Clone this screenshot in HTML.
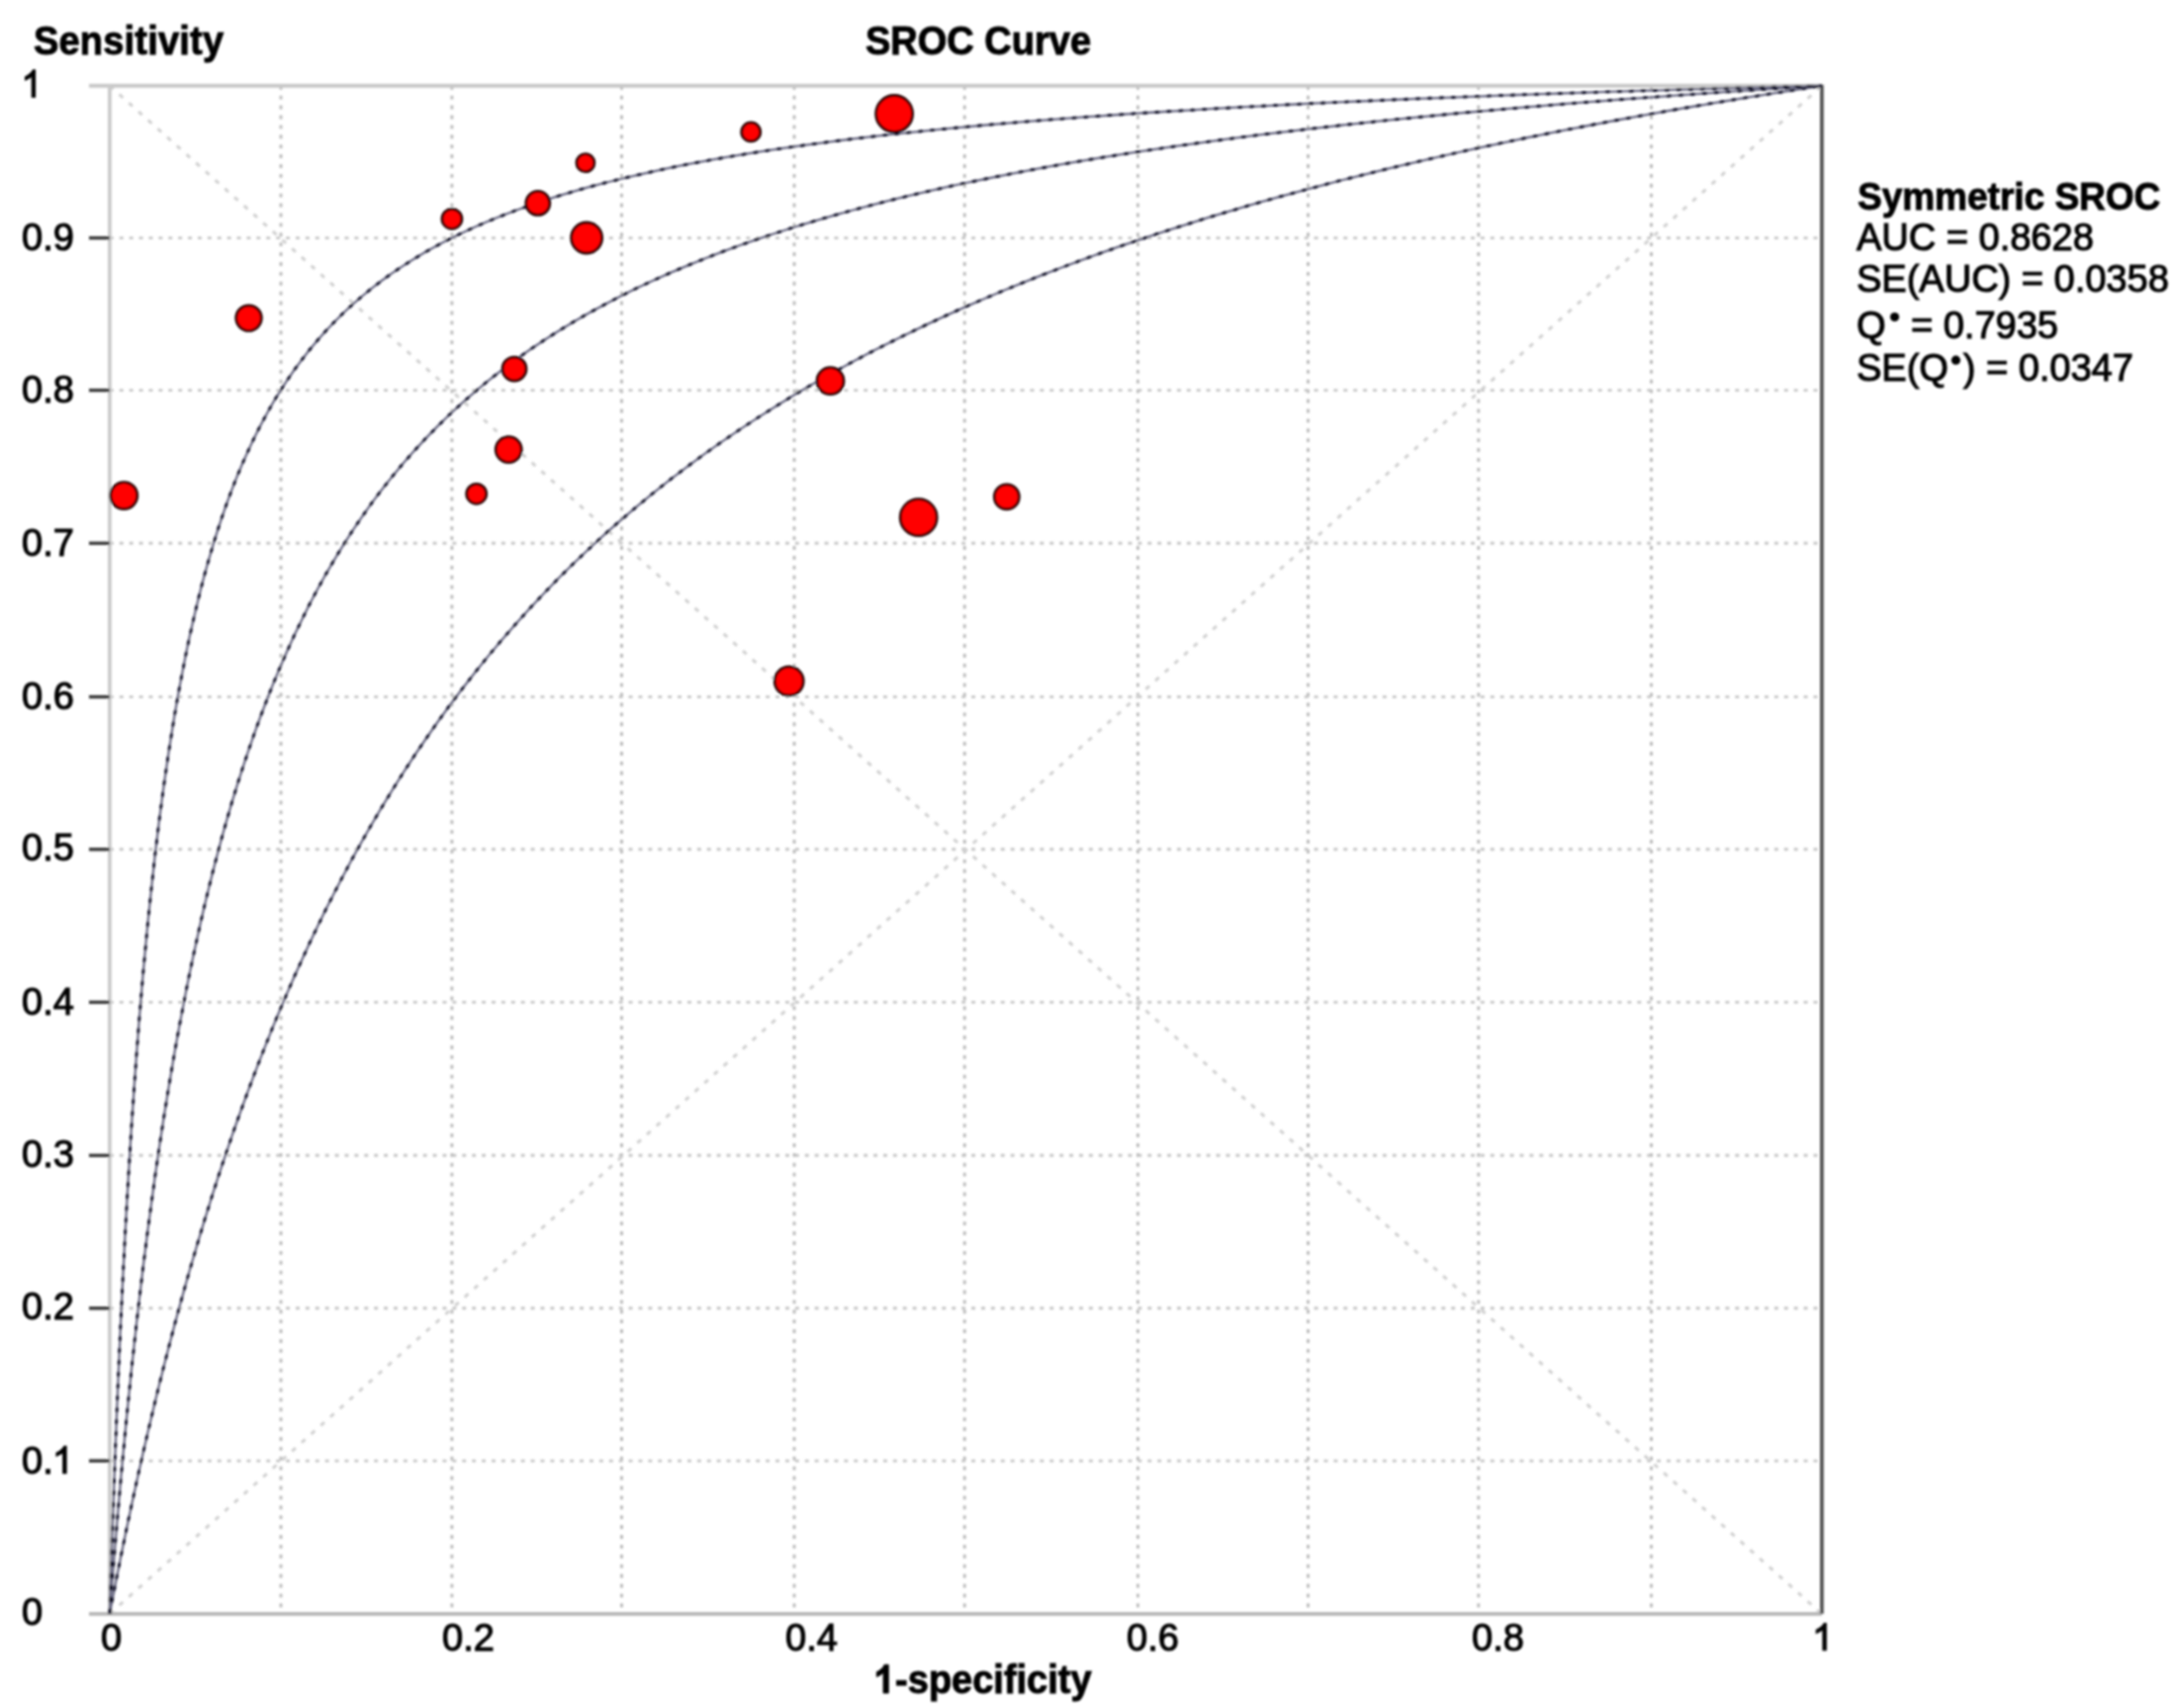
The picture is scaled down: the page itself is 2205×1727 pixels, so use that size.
<!DOCTYPE html>
<html><head><meta charset="utf-8"><title>SROC Curve</title>
<style>
html,body{margin:0;padding:0;background:#fff;width:2205px;height:1727px;overflow:hidden}
svg{display:block}
text{font-family:"Liberation Sans",sans-serif;font-size:38px;fill:#000;stroke:#000;stroke-width:1.1px}
.b{font-weight:700;stroke-width:0.9px}
</style></head><body>
<svg width="2205" height="1727" viewBox="0 0 2205 1727">
<defs><filter id="bl" x="0" y="0" width="2205" height="1727" filterUnits="userSpaceOnUse"><feGaussianBlur stdDeviation="0.9"/></filter></defs>
<rect width="2205" height="1727" fill="#fff"/>
<g filter="url(#bl)">
<g stroke="#bcbcbc" stroke-width="2.9" stroke-dasharray="3.9 6.0" fill="none">
<line x1="284.0" y1="86.8" x2="284.0" y2="1631.8"/>
<line x1="456.9" y1="86.8" x2="456.9" y2="1631.8"/>
<line x1="628.5" y1="86.8" x2="628.5" y2="1631.8"/>
<line x1="803.0" y1="86.8" x2="803.0" y2="1631.8"/>
<line x1="975.2" y1="86.8" x2="975.2" y2="1631.8"/>
<line x1="1150.4" y1="86.8" x2="1150.4" y2="1631.8"/>
<line x1="1322.5" y1="86.8" x2="1322.5" y2="1631.8"/>
<line x1="1494.8" y1="86.8" x2="1494.8" y2="1631.8"/>
<line x1="1669.5" y1="86.8" x2="1669.5" y2="1631.8"/>
</g>
<g stroke="#c6c6c6" stroke-width="2.9" stroke-dasharray="3.9 6.0" fill="none">
<line x1="110.9" y1="1477.1" x2="1841.9" y2="1477.1"/>
<line x1="110.9" y1="1322.8" x2="1841.9" y2="1322.8"/>
<line x1="110.9" y1="1168.3" x2="1841.9" y2="1168.3"/>
<line x1="110.9" y1="1013.4" x2="1841.9" y2="1013.4"/>
<line x1="110.9" y1="858.8" x2="1841.9" y2="858.8"/>
<line x1="110.9" y1="704.6" x2="1841.9" y2="704.6"/>
<line x1="110.9" y1="549.3" x2="1841.9" y2="549.3"/>
<line x1="110.9" y1="394.6" x2="1841.9" y2="394.6"/>
<line x1="110.9" y1="240.6" x2="1841.9" y2="240.6"/>
</g>
<g stroke="#d0d0d0" stroke-width="3" stroke-dasharray="5 8" fill="none">
<line x1="110.9" y1="1631.85" x2="1841.9" y2="86.8"/>
<line x1="110.9" y1="86.8" x2="1841.9" y2="1631.85"/>
</g>
<g fill="none">
<line x1="90" y1="86.8" x2="1841.9" y2="86.8" stroke="#c8c8c8" stroke-width="4"/>
<line x1="90" y1="1631.85" x2="1841.9" y2="1631.85" stroke="#b6b6b6" stroke-width="3.6"/>
<line x1="110.9" y1="86.8" x2="110.9" y2="1631.85" stroke="#cbcbcb" stroke-width="3.8"/>
</g>
<g stroke="#383838" stroke-width="3.4" fill="none">
<line x1="90" y1="1477.1" x2="110.9" y2="1477.1"/>
<line x1="90" y1="1322.8" x2="110.9" y2="1322.8"/>
<line x1="90" y1="1168.3" x2="110.9" y2="1168.3"/>
<line x1="90" y1="1013.4" x2="110.9" y2="1013.4"/>
<line x1="90" y1="858.8" x2="110.9" y2="858.8"/>
<line x1="90" y1="704.6" x2="110.9" y2="704.6"/>
<line x1="90" y1="549.3" x2="110.9" y2="549.3"/>
<line x1="90" y1="394.6" x2="110.9" y2="394.6"/>
<line x1="90" y1="240.6" x2="110.9" y2="240.6"/>
</g>
<line x1="1841.9" y1="85.8" x2="1841.9" y2="1631.85" stroke="#505050" stroke-width="3.7"/>
<g stroke="#686882" stroke-width="2.3" fill="none" stroke-linejoin="round">
<path d="M110.9,1631.8 L111.1,1625.0 L111.1,1624.7 L111.1,1624.3 L111.1,1624.0 L111.2,1623.6 L111.2,1623.2 L111.2,1622.9 L111.2,1622.4 L111.2,1622.0 L111.2,1621.6 L111.2,1621.1 L111.3,1620.6 L111.3,1620.1 L111.3,1619.5 L111.3,1619.0 L111.3,1618.4 L111.3,1617.8 L111.4,1617.1 L111.4,1616.5 L111.4,1615.8 L111.4,1615.0 L111.4,1614.3 L111.5,1613.5 L111.5,1612.6 L111.5,1611.8 L111.6,1610.9 L111.6,1609.9 L111.6,1608.9 L111.7,1607.9 L111.7,1606.8 L111.7,1605.7 L111.8,1604.5 L111.8,1603.2 L111.8,1601.9 L111.9,1600.6 L111.9,1599.2 L112.0,1597.7 L112.0,1596.2 L112.1,1594.6 L112.1,1592.9 L112.2,1591.2 L112.3,1589.3 L112.3,1587.4 L112.4,1585.4 L112.4,1583.4 L112.5,1581.2 L112.6,1579.0 L112.7,1576.6 L112.8,1574.2 L112.8,1571.6 L112.9,1569.0 L113.0,1566.2 L113.1,1563.3 L113.2,1560.3 L113.3,1557.2 L113.4,1553.9 L113.6,1550.5 L113.7,1547.0 L113.8,1543.3 L113.9,1539.4 L114.1,1535.5 L114.2,1531.3 L114.4,1527.0 L114.5,1522.5 L114.7,1517.9 L114.9,1513.0 L115.1,1508.0 L115.2,1502.8 L115.4,1497.3 L115.7,1491.7 L115.9,1485.9 L116.1,1479.8 L116.3,1473.5 L116.6,1467.0 L116.8,1460.3 L117.1,1453.3 L117.4,1446.0 L117.7,1438.6 L118.0,1430.8 L118.3,1422.8 L118.7,1414.6 L119.0,1406.0 L119.4,1397.2 L119.8,1388.1 L120.2,1378.7 L120.6,1369.1 L121.1,1359.1 L121.5,1348.8 L122.0,1338.3 L122.5,1327.4 L123.1,1316.3 L123.6,1304.8 L124.2,1293.1 L124.8,1281.0 L125.5,1268.7 L126.1,1256.0 L126.8,1243.1 L127.5,1229.8 L128.3,1216.3 L129.1,1202.5 L129.9,1188.4 L130.8,1174.1 L131.7,1159.4 L132.6,1144.5 L133.6,1129.4 L134.7,1114.0 L135.7,1098.4 L136.9,1082.6 L138.0,1066.6 L139.3,1050.3 L140.5,1033.9 L141.9,1017.4 L143.3,1000.6 L144.7,983.8 L146.3,966.8 L147.9,949.7 L149.5,932.5 L151.3,915.2 L153.1,897.9 L155.0,880.6 L156.9,863.2 L159.0,845.8 L161.1,828.4 L163.4,811.1 L165.7,793.8 L168.2,776.6 L170.7,759.5 L173.4,742.4 L176.1,725.5 L179.0,708.7 L182.0,692.1 L185.2,675.6 L188.4,659.3 L191.8,643.1 L195.4,627.2 L199.1,611.5 L202.9,596.0 L206.9,580.8 L211.1,565.8 L215.4,551.1 L219.9,536.6 L224.6,522.4 L229.5,508.4 L234.5,494.8 L239.8,481.4 L245.3,468.3 L251.0,455.6 L256.9,443.1 L263.0,430.9 L269.4,419.0 L275.9,407.4 L282.8,396.1 L289.9,385.1 L297.2,374.5 L304.9,364.1 L312.7,354.0 L320.9,344.2 L329.3,334.7 L338.1,325.5 L347.1,316.5 L356.4,307.9 L366.1,299.5 L376.0,291.3 L386.3,283.5 L396.9,275.9 L407.8,268.6 L419.0,261.5 L430.6,254.6 L442.5,248.0 L454.7,241.6 L467.3,235.5 L480.2,229.5 L493.4,223.8 L507.0,218.3 L520.9,213.0 L535.1,207.9 L549.7,202.9 L564.6,198.2 L579.8,193.6 L595.4,189.2 L611.2,185.0 L627.4,181.0 L643.9,177.1 L660.6,173.3 L677.6,169.7 L694.9,166.2 L712.4,162.9 L730.2,159.7 L748.2,156.7 L766.5,153.7 L784.9,150.9 L803.5,148.2 L822.3,145.6 L841.2,143.1 L860.3,140.7 L879.4,138.4 L898.7,136.2 L918.1,134.1 L937.5,132.1 L956.9,130.2 L976.4,128.3 L995.9,126.5 L1015.3,124.8 L1034.7,123.2 L1054.1,121.6 L1073.4,120.1 L1092.5,118.7 L1111.6,117.3 L1130.5,116.0 L1149.3,114.7 L1167.9,113.5 L1186.3,112.4 L1204.6,111.3 L1222.6,110.2 L1240.4,109.2 L1257.9,108.2 L1275.2,107.3 L1292.2,106.4 L1308.9,105.5 L1325.4,104.7 L1341.6,103.9 L1357.4,103.2 L1373.0,102.5 L1388.2,101.8 L1403.1,101.1 L1417.7,100.5 L1431.9,99.9 L1445.8,99.3 L1459.4,98.8 L1472.6,98.3 L1485.5,97.8 L1498.1,97.3 L1510.3,96.8 L1522.2,96.4 L1533.8,96.0 L1545.0,95.6 L1555.9,95.2 L1566.5,94.8 L1576.8,94.5 L1586.7,94.1 L1596.4,93.8 L1605.7,93.5 L1614.7,93.2 L1623.5,92.9 L1631.9,92.7 L1640.1,92.4 L1647.9,92.2 L1655.6,91.9 L1662.9,91.7 L1670.0,91.5 L1676.9,91.3 L1683.4,91.1 L1689.8,90.9 L1695.9,90.7 L1701.8,90.5 L1707.5,90.4 L1713.0,90.2 L1718.3,90.1 L1723.3,89.9 L1728.2,89.8 L1732.9,89.7 L1737.4,89.5 L1741.7,89.4 L1745.9,89.3 L1749.9,89.2 L1753.7,89.1 L1757.4,89.0 L1761.0,88.9 L1764.4,88.8 L1767.6,88.7 L1770.8,88.6 L1773.8,88.5 L1776.7,88.5 L1779.4,88.4 L1782.1,88.3 L1784.6,88.3 L1787.1,88.2 L1789.4,88.1 L1791.7,88.1 L1793.8,88.0 L1795.9,88.0 L1797.8,87.9 L1799.7,87.9 L1801.5,87.8 L1803.3,87.8 L1804.9,87.7 L1806.5,87.7 L1808.1,87.6 L1809.5,87.6 L1810.9,87.6 L1812.3,87.5 L1813.5,87.5 L1814.8,87.5 L1815.9,87.4 L1817.1,87.4 L1818.1,87.4 L1819.2,87.4 L1820.2,87.3 L1821.1,87.3 L1822.0,87.3 L1822.9,87.3 L1823.7,87.3 L1824.5,87.2 L1825.3,87.2 L1826.0,87.2 L1826.7,87.2 L1827.3,87.2 L1828.0,87.1 L1828.6,87.1 L1829.2,87.1 L1829.7,87.1 L1830.3,87.1 L1830.8,87.1 L1831.3,87.1 L1831.7,87.1 L1832.2,87.0 L1832.6,87.0 L1833.0,87.0 L1833.4,87.0 L1833.8,87.0 L1834.1,87.0 L1834.5,87.0 L1834.8,87.0 L1835.1,87.0 L1835.4,87.0 L1835.7,87.0 L1836.0,86.9 L1836.2,86.9 L1836.5,86.9 L1836.7,86.9 L1836.9,86.9 L1837.1,86.9 L1837.4,86.9 L1837.6,86.9 L1837.7,86.9 L1837.9,86.9 L1838.1,86.9 L1838.3,86.9 L1838.4,86.9 L1838.6,86.9 L1838.7,86.9 L1838.9,86.9 L1839.0,86.9 L1839.1,86.9 L1839.2,86.9 L1839.4,86.9 L1839.5,86.9 L1839.6,86.9 L1839.7,86.9 L1839.8,86.9 L1839.9,86.8 L1840.0,86.8 L1840.0,86.8 L1840.1,86.8 L1840.2,86.8 L1840.3,86.8 L1840.4,86.8 L1840.4,86.8 L1840.5,86.8 L1840.5,86.8 L1840.6,86.8 L1840.7,86.8 L1840.7,86.8 L1840.8,86.8 L1840.8,86.8 L1840.9,86.8 L1840.9,86.8 L1841.0,86.8 L1841.0,86.8 L1841.0,86.8 L1841.1,86.8 L1841.1,86.8 L1841.1,86.8 L1841.2,86.8 L1841.2,86.8 L1841.2,86.8 L1841.3,86.8 L1841.3,86.8 L1841.3,86.8 L1841.4,86.8 L1841.4,86.8 L1841.4,86.8 L1841.4,86.8 L1841.4,86.8 L1841.5,86.8 L1841.5,86.8 L1841.5,86.8 L1841.5,86.8 L1841.5,86.8 L1841.5,86.8 L1841.6,86.8 L1841.6,86.8 L1841.6,86.8 L1841.6,86.8 L1841.6,86.8 L1841.6,86.8 L1841.6,86.8 L1841.7,86.8 L1841.7,86.8 L1841.7,86.8 L1841.7,86.8 L1841.9,86.8"/>
<path d="M110.9,1631.8 L111.1,1629.0 L111.1,1628.9 L111.1,1628.8 L111.1,1628.6 L111.2,1628.5 L111.2,1628.3 L111.2,1628.2 L111.2,1628.0 L111.2,1627.8 L111.2,1627.6 L111.2,1627.5 L111.3,1627.3 L111.3,1627.0 L111.3,1626.8 L111.3,1626.6 L111.3,1626.4 L111.3,1626.1 L111.4,1625.8 L111.4,1625.6 L111.4,1625.3 L111.4,1625.0 L111.4,1624.7 L111.5,1624.3 L111.5,1624.0 L111.5,1623.6 L111.6,1623.2 L111.6,1622.9 L111.6,1622.4 L111.7,1622.0 L111.7,1621.6 L111.7,1621.1 L111.8,1620.6 L111.8,1620.1 L111.8,1619.5 L111.9,1619.0 L111.9,1618.4 L112.0,1617.8 L112.0,1617.1 L112.1,1616.5 L112.1,1615.8 L112.2,1615.0 L112.3,1614.3 L112.3,1613.5 L112.4,1612.6 L112.4,1611.8 L112.5,1610.9 L112.6,1609.9 L112.7,1608.9 L112.8,1607.9 L112.8,1606.8 L112.9,1605.7 L113.0,1604.5 L113.1,1603.2 L113.2,1601.9 L113.3,1600.6 L113.4,1599.2 L113.6,1597.7 L113.7,1596.2 L113.8,1594.6 L113.9,1592.9 L114.1,1591.2 L114.2,1589.3 L114.4,1587.4 L114.5,1585.4 L114.7,1583.4 L114.9,1581.2 L115.1,1579.0 L115.2,1576.6 L115.4,1574.2 L115.7,1571.6 L115.9,1569.0 L116.1,1566.2 L116.3,1563.3 L116.6,1560.3 L116.8,1557.2 L117.1,1553.9 L117.4,1550.5 L117.7,1547.0 L118.0,1543.3 L118.3,1539.4 L118.7,1535.5 L119.0,1531.3 L119.4,1527.0 L119.8,1522.5 L120.2,1517.9 L120.6,1513.0 L121.1,1508.0 L121.5,1502.8 L122.0,1497.3 L122.5,1491.7 L123.1,1485.9 L123.6,1479.8 L124.2,1473.5 L124.8,1467.0 L125.5,1460.3 L126.1,1453.3 L126.8,1446.0 L127.5,1438.6 L128.3,1430.8 L129.1,1422.8 L129.9,1414.6 L130.8,1406.0 L131.7,1397.2 L132.6,1388.1 L133.6,1378.7 L134.7,1369.1 L135.7,1359.1 L136.9,1348.8 L138.0,1338.3 L139.3,1327.4 L140.5,1316.3 L141.9,1304.8 L143.3,1293.1 L144.7,1281.0 L146.3,1268.7 L147.9,1256.0 L149.5,1243.1 L151.3,1229.8 L153.1,1216.3 L155.0,1202.5 L156.9,1188.4 L159.0,1174.1 L161.1,1159.4 L163.4,1144.5 L165.7,1129.4 L168.2,1114.0 L170.7,1098.4 L173.4,1082.6 L176.1,1066.6 L179.0,1050.3 L182.0,1033.9 L185.2,1017.4 L188.4,1000.6 L191.8,983.8 L195.4,966.8 L199.1,949.7 L202.9,932.5 L206.9,915.2 L211.1,897.9 L215.4,880.6 L219.9,863.2 L224.6,845.8 L229.5,828.4 L234.5,811.1 L239.8,793.8 L245.3,776.6 L251.0,759.5 L256.9,742.4 L263.0,725.5 L269.4,708.7 L275.9,692.1 L282.8,675.6 L289.9,659.3 L297.2,643.1 L304.9,627.2 L312.7,611.5 L320.9,596.0 L329.3,580.8 L338.1,565.8 L347.1,551.1 L356.4,536.6 L366.1,522.4 L376.0,508.4 L386.3,494.8 L396.9,481.4 L407.8,468.3 L419.0,455.6 L430.6,443.1 L442.5,430.9 L454.7,419.0 L467.3,407.4 L480.2,396.1 L493.4,385.1 L507.0,374.5 L520.9,364.1 L535.1,354.0 L549.7,344.2 L564.6,334.7 L579.8,325.5 L595.4,316.5 L611.2,307.9 L627.4,299.5 L643.9,291.3 L660.6,283.5 L677.6,275.9 L694.9,268.6 L712.4,261.5 L730.2,254.6 L748.2,248.0 L766.5,241.6 L784.9,235.5 L803.5,229.5 L822.3,223.8 L841.2,218.3 L860.3,213.0 L879.4,207.9 L898.7,202.9 L918.1,198.2 L937.5,193.6 L956.9,189.2 L976.4,185.0 L995.9,181.0 L1015.3,177.1 L1034.7,173.3 L1054.1,169.7 L1073.4,166.2 L1092.5,162.9 L1111.6,159.7 L1130.5,156.7 L1149.3,153.7 L1167.9,150.9 L1186.3,148.2 L1204.6,145.6 L1222.6,143.1 L1240.4,140.7 L1257.9,138.4 L1275.2,136.2 L1292.2,134.1 L1308.9,132.1 L1325.4,130.2 L1341.6,128.3 L1357.4,126.5 L1373.0,124.8 L1388.2,123.2 L1403.1,121.6 L1417.7,120.1 L1431.9,118.7 L1445.8,117.3 L1459.4,116.0 L1472.6,114.7 L1485.5,113.5 L1498.1,112.4 L1510.3,111.3 L1522.2,110.2 L1533.8,109.2 L1545.0,108.2 L1555.9,107.3 L1566.5,106.4 L1576.8,105.5 L1586.7,104.7 L1596.4,103.9 L1605.7,103.2 L1614.7,102.5 L1623.5,101.8 L1631.9,101.1 L1640.1,100.5 L1647.9,99.9 L1655.6,99.3 L1662.9,98.8 L1670.0,98.3 L1676.9,97.8 L1683.4,97.3 L1689.8,96.8 L1695.9,96.4 L1701.8,96.0 L1707.5,95.6 L1713.0,95.2 L1718.3,94.8 L1723.3,94.5 L1728.2,94.1 L1732.9,93.8 L1737.4,93.5 L1741.7,93.2 L1745.9,92.9 L1749.9,92.7 L1753.7,92.4 L1757.4,92.2 L1761.0,91.9 L1764.4,91.7 L1767.6,91.5 L1770.8,91.3 L1773.8,91.1 L1776.7,90.9 L1779.4,90.7 L1782.1,90.5 L1784.6,90.4 L1787.1,90.2 L1789.4,90.1 L1791.7,89.9 L1793.8,89.8 L1795.9,89.7 L1797.8,89.5 L1799.7,89.4 L1801.5,89.3 L1803.3,89.2 L1804.9,89.1 L1806.5,89.0 L1808.1,88.9 L1809.5,88.8 L1810.9,88.7 L1812.3,88.6 L1813.5,88.5 L1814.8,88.5 L1815.9,88.4 L1817.1,88.3 L1818.1,88.3 L1819.2,88.2 L1820.2,88.1 L1821.1,88.1 L1822.0,88.0 L1822.9,88.0 L1823.7,87.9 L1824.5,87.9 L1825.3,87.8 L1826.0,87.8 L1826.7,87.7 L1827.3,87.7 L1828.0,87.6 L1828.6,87.6 L1829.2,87.6 L1829.7,87.5 L1830.3,87.5 L1830.8,87.5 L1831.3,87.4 L1831.7,87.4 L1832.2,87.4 L1832.6,87.4 L1833.0,87.3 L1833.4,87.3 L1833.8,87.3 L1834.1,87.3 L1834.5,87.3 L1834.8,87.2 L1835.1,87.2 L1835.4,87.2 L1835.7,87.2 L1836.0,87.2 L1836.2,87.1 L1836.5,87.1 L1836.7,87.1 L1836.9,87.1 L1837.1,87.1 L1837.4,87.1 L1837.6,87.1 L1837.7,87.1 L1837.9,87.0 L1838.1,87.0 L1838.3,87.0 L1838.4,87.0 L1838.6,87.0 L1838.7,87.0 L1838.9,87.0 L1839.0,87.0 L1839.1,87.0 L1839.2,87.0 L1839.4,87.0 L1839.5,86.9 L1839.6,86.9 L1839.7,86.9 L1839.8,86.9 L1839.9,86.9 L1840.0,86.9 L1840.0,86.9 L1840.1,86.9 L1840.2,86.9 L1840.3,86.9 L1840.4,86.9 L1840.4,86.9 L1840.5,86.9 L1840.5,86.9 L1840.6,86.9 L1840.7,86.9 L1840.7,86.9 L1840.8,86.9 L1840.8,86.9 L1840.9,86.9 L1840.9,86.9 L1841.0,86.9 L1841.0,86.9 L1841.0,86.9 L1841.1,86.8 L1841.1,86.8 L1841.1,86.8 L1841.2,86.8 L1841.2,86.8 L1841.2,86.8 L1841.3,86.8 L1841.3,86.8 L1841.3,86.8 L1841.4,86.8 L1841.4,86.8 L1841.4,86.8 L1841.4,86.8 L1841.4,86.8 L1841.5,86.8 L1841.5,86.8 L1841.5,86.8 L1841.5,86.8 L1841.5,86.8 L1841.5,86.8 L1841.6,86.8 L1841.6,86.8 L1841.6,86.8 L1841.6,86.8 L1841.6,86.8 L1841.6,86.8 L1841.6,86.8 L1841.7,86.8 L1841.7,86.8 L1841.7,86.8 L1841.7,86.8 L1841.9,86.8"/>
<path d="M110.9,1631.8 L111.1,1630.7 L111.1,1630.7 L111.1,1630.6 L111.1,1630.6 L111.2,1630.5 L111.2,1630.4 L111.2,1630.4 L111.2,1630.3 L111.2,1630.2 L111.2,1630.2 L111.2,1630.1 L111.3,1630.0 L111.3,1629.9 L111.3,1629.8 L111.3,1629.7 L111.3,1629.6 L111.3,1629.5 L111.4,1629.4 L111.4,1629.3 L111.4,1629.2 L111.4,1629.1 L111.4,1629.0 L111.5,1628.8 L111.5,1628.7 L111.5,1628.5 L111.6,1628.4 L111.6,1628.2 L111.6,1628.1 L111.7,1627.9 L111.7,1627.7 L111.7,1627.5 L111.8,1627.3 L111.8,1627.1 L111.8,1626.9 L111.9,1626.7 L111.9,1626.4 L112.0,1626.2 L112.0,1625.9 L112.1,1625.6 L112.1,1625.4 L112.2,1625.1 L112.3,1624.7 L112.3,1624.4 L112.4,1624.1 L112.4,1623.7 L112.5,1623.3 L112.6,1623.0 L112.7,1622.6 L112.8,1622.1 L112.8,1621.7 L112.9,1621.2 L113.0,1620.7 L113.1,1620.2 L113.2,1619.7 L113.3,1619.1 L113.4,1618.6 L113.6,1618.0 L113.7,1617.3 L113.8,1616.7 L113.9,1616.0 L114.1,1615.2 L114.2,1614.5 L114.4,1613.7 L114.5,1612.9 L114.7,1612.0 L114.9,1611.1 L115.1,1610.2 L115.2,1609.2 L115.4,1608.2 L115.7,1607.1 L115.9,1606.0 L116.1,1604.8 L116.3,1603.6 L116.6,1602.3 L116.8,1601.0 L117.1,1599.6 L117.4,1598.1 L117.7,1596.6 L118.0,1595.0 L118.3,1593.4 L118.7,1591.6 L119.0,1589.8 L119.4,1587.9 L119.8,1586.0 L120.2,1583.9 L120.6,1581.8 L121.1,1579.6 L121.5,1577.3 L122.0,1574.8 L122.5,1572.3 L123.1,1569.7 L123.6,1566.9 L124.2,1564.1 L124.8,1561.1 L125.5,1558.0 L126.1,1554.8 L126.8,1551.4 L127.5,1547.9 L128.3,1544.3 L129.1,1540.5 L129.9,1536.5 L130.8,1532.4 L131.7,1528.2 L132.6,1523.7 L133.6,1519.1 L134.7,1514.3 L135.7,1509.3 L136.9,1504.2 L138.0,1498.8 L139.3,1493.2 L140.5,1487.4 L141.9,1481.4 L143.3,1475.2 L144.7,1468.8 L146.3,1462.1 L147.9,1455.2 L149.5,1448.0 L151.3,1440.6 L153.1,1432.9 L155.0,1425.0 L156.9,1416.8 L159.0,1408.3 L161.1,1399.6 L163.4,1390.6 L165.7,1381.3 L168.2,1371.7 L170.7,1361.8 L173.4,1351.6 L176.1,1341.1 L179.0,1330.4 L182.0,1319.3 L185.2,1307.9 L188.4,1296.2 L191.8,1284.3 L195.4,1272.0 L199.1,1259.4 L202.9,1246.6 L206.9,1233.4 L211.1,1220.0 L215.4,1206.2 L219.9,1192.2 L224.6,1177.9 L229.5,1163.4 L234.5,1148.5 L239.8,1133.5 L245.3,1118.2 L251.0,1102.6 L256.9,1086.8 L263.0,1070.9 L269.4,1054.7 L275.9,1038.3 L282.8,1021.8 L289.9,1005.1 L297.2,988.3 L304.9,971.3 L312.7,954.2 L320.9,937.1 L329.3,919.8 L338.1,902.5 L347.1,885.2 L356.4,867.8 L366.1,850.4 L376.0,833.1 L386.3,815.7 L396.9,798.4 L407.8,781.2 L419.0,764.0 L430.6,747.0 L442.5,730.0 L454.7,713.2 L467.3,696.5 L480.2,680.0 L493.4,663.6 L507.0,647.4 L520.9,631.5 L535.1,615.7 L549.7,600.2 L564.6,584.8 L579.8,569.8 L595.4,555.0 L611.2,540.4 L627.4,526.1 L643.9,512.1 L660.6,498.4 L677.6,484.9 L694.9,471.8 L712.4,458.9 L730.2,446.4 L748.2,434.1 L766.5,422.1 L784.9,410.5 L803.5,399.1 L822.3,388.0 L841.2,377.3 L860.3,366.8 L879.4,356.6 L898.7,346.8 L918.1,337.2 L937.5,327.9 L956.9,318.9 L976.4,310.1 L995.9,301.7 L1015.3,293.5 L1034.7,285.6 L1054.1,277.9 L1073.4,270.5 L1092.5,263.3 L1111.6,256.4 L1130.5,249.7 L1149.3,243.3 L1167.9,237.1 L1186.3,231.1 L1204.6,225.3 L1222.6,219.7 L1240.4,214.4 L1257.9,209.2 L1275.2,204.2 L1292.2,199.4 L1308.9,194.8 L1325.4,190.4 L1341.6,186.1 L1357.4,182.0 L1373.0,178.1 L1388.2,174.3 L1403.1,170.6 L1417.7,167.2 L1431.9,163.8 L1445.8,160.6 L1459.4,157.5 L1472.6,154.5 L1485.5,151.6 L1498.1,148.9 L1510.3,146.3 L1522.2,143.8 L1533.8,141.3 L1545.0,139.0 L1555.9,136.8 L1566.5,134.7 L1576.8,132.6 L1586.7,130.7 L1596.4,128.8 L1605.7,127.0 L1614.7,125.3 L1623.5,123.6 L1631.9,122.0 L1640.1,120.5 L1647.9,119.1 L1655.6,117.7 L1662.9,116.3 L1670.0,115.1 L1676.9,113.8 L1683.4,112.7 L1689.8,111.5 L1695.9,110.5 L1701.8,109.4 L1707.5,108.5 L1713.0,107.5 L1718.3,106.6 L1723.3,105.8 L1728.2,104.9 L1732.9,104.1 L1737.4,103.4 L1741.7,102.7 L1745.9,102.0 L1749.9,101.3 L1753.7,100.7 L1757.4,100.1 L1761.0,99.5 L1764.4,98.9 L1767.6,98.4 L1770.8,97.9 L1773.8,97.4 L1776.7,97.0 L1779.4,96.5 L1782.1,96.1 L1784.6,95.7 L1787.1,95.3 L1789.4,94.9 L1791.7,94.6 L1793.8,94.2 L1795.9,93.9 L1797.8,93.6 L1799.7,93.3 L1801.5,93.0 L1803.3,92.7 L1804.9,92.5 L1806.5,92.2 L1808.1,92.0 L1809.5,91.8 L1810.9,91.5 L1812.3,91.3 L1813.5,91.1 L1814.8,90.9 L1815.9,90.8 L1817.1,90.6 L1818.1,90.4 L1819.2,90.3 L1820.2,90.1 L1821.1,90.0 L1822.0,89.8 L1822.9,89.7 L1823.7,89.6 L1824.5,89.4 L1825.3,89.3 L1826.0,89.2 L1826.7,89.1 L1827.3,89.0 L1828.0,88.9 L1828.6,88.8 L1829.2,88.7 L1829.7,88.6 L1830.3,88.6 L1830.8,88.5 L1831.3,88.4 L1831.7,88.3 L1832.2,88.3 L1832.6,88.2 L1833.0,88.1 L1833.4,88.1 L1833.8,88.0 L1834.1,88.0 L1834.5,87.9 L1834.8,87.9 L1835.1,87.8 L1835.4,87.8 L1835.7,87.7 L1836.0,87.7 L1836.2,87.7 L1836.5,87.6 L1836.7,87.6 L1836.9,87.6 L1837.1,87.5 L1837.4,87.5 L1837.6,87.5 L1837.7,87.4 L1837.9,87.4 L1838.1,87.4 L1838.3,87.3 L1838.4,87.3 L1838.6,87.3 L1838.7,87.3 L1838.9,87.3 L1839.0,87.2 L1839.1,87.2 L1839.2,87.2 L1839.4,87.2 L1839.5,87.2 L1839.6,87.1 L1839.7,87.1 L1839.8,87.1 L1839.9,87.1 L1840.0,87.1 L1840.0,87.1 L1840.1,87.1 L1840.2,87.1 L1840.3,87.0 L1840.4,87.0 L1840.4,87.0 L1840.5,87.0 L1840.5,87.0 L1840.6,87.0 L1840.7,87.0 L1840.7,87.0 L1840.8,87.0 L1840.8,87.0 L1840.9,87.0 L1840.9,86.9 L1841.0,86.9 L1841.0,86.9 L1841.0,86.9 L1841.1,86.9 L1841.1,86.9 L1841.1,86.9 L1841.2,86.9 L1841.2,86.9 L1841.2,86.9 L1841.3,86.9 L1841.3,86.9 L1841.3,86.9 L1841.4,86.9 L1841.4,86.9 L1841.4,86.9 L1841.4,86.9 L1841.4,86.9 L1841.5,86.9 L1841.5,86.9 L1841.5,86.9 L1841.5,86.9 L1841.5,86.9 L1841.5,86.9 L1841.6,86.9 L1841.6,86.8 L1841.6,86.8 L1841.6,86.8 L1841.6,86.8 L1841.6,86.8 L1841.6,86.8 L1841.7,86.8 L1841.7,86.8 L1841.7,86.8 L1841.7,86.8 L1841.9,86.8"/>
</g>
<g stroke="#1a1a30" stroke-width="2.9" fill="none" stroke-linejoin="round" stroke-dasharray="5 7">
<path d="M110.9,1631.8 L111.1,1625.0 L111.1,1624.7 L111.1,1624.3 L111.1,1624.0 L111.2,1623.6 L111.2,1623.2 L111.2,1622.9 L111.2,1622.4 L111.2,1622.0 L111.2,1621.6 L111.2,1621.1 L111.3,1620.6 L111.3,1620.1 L111.3,1619.5 L111.3,1619.0 L111.3,1618.4 L111.3,1617.8 L111.4,1617.1 L111.4,1616.5 L111.4,1615.8 L111.4,1615.0 L111.4,1614.3 L111.5,1613.5 L111.5,1612.6 L111.5,1611.8 L111.6,1610.9 L111.6,1609.9 L111.6,1608.9 L111.7,1607.9 L111.7,1606.8 L111.7,1605.7 L111.8,1604.5 L111.8,1603.2 L111.8,1601.9 L111.9,1600.6 L111.9,1599.2 L112.0,1597.7 L112.0,1596.2 L112.1,1594.6 L112.1,1592.9 L112.2,1591.2 L112.3,1589.3 L112.3,1587.4 L112.4,1585.4 L112.4,1583.4 L112.5,1581.2 L112.6,1579.0 L112.7,1576.6 L112.8,1574.2 L112.8,1571.6 L112.9,1569.0 L113.0,1566.2 L113.1,1563.3 L113.2,1560.3 L113.3,1557.2 L113.4,1553.9 L113.6,1550.5 L113.7,1547.0 L113.8,1543.3 L113.9,1539.4 L114.1,1535.5 L114.2,1531.3 L114.4,1527.0 L114.5,1522.5 L114.7,1517.9 L114.9,1513.0 L115.1,1508.0 L115.2,1502.8 L115.4,1497.3 L115.7,1491.7 L115.9,1485.9 L116.1,1479.8 L116.3,1473.5 L116.6,1467.0 L116.8,1460.3 L117.1,1453.3 L117.4,1446.0 L117.7,1438.6 L118.0,1430.8 L118.3,1422.8 L118.7,1414.6 L119.0,1406.0 L119.4,1397.2 L119.8,1388.1 L120.2,1378.7 L120.6,1369.1 L121.1,1359.1 L121.5,1348.8 L122.0,1338.3 L122.5,1327.4 L123.1,1316.3 L123.6,1304.8 L124.2,1293.1 L124.8,1281.0 L125.5,1268.7 L126.1,1256.0 L126.8,1243.1 L127.5,1229.8 L128.3,1216.3 L129.1,1202.5 L129.9,1188.4 L130.8,1174.1 L131.7,1159.4 L132.6,1144.5 L133.6,1129.4 L134.7,1114.0 L135.7,1098.4 L136.9,1082.6 L138.0,1066.6 L139.3,1050.3 L140.5,1033.9 L141.9,1017.4 L143.3,1000.6 L144.7,983.8 L146.3,966.8 L147.9,949.7 L149.5,932.5 L151.3,915.2 L153.1,897.9 L155.0,880.6 L156.9,863.2 L159.0,845.8 L161.1,828.4 L163.4,811.1 L165.7,793.8 L168.2,776.6 L170.7,759.5 L173.4,742.4 L176.1,725.5 L179.0,708.7 L182.0,692.1 L185.2,675.6 L188.4,659.3 L191.8,643.1 L195.4,627.2 L199.1,611.5 L202.9,596.0 L206.9,580.8 L211.1,565.8 L215.4,551.1 L219.9,536.6 L224.6,522.4 L229.5,508.4 L234.5,494.8 L239.8,481.4 L245.3,468.3 L251.0,455.6 L256.9,443.1 L263.0,430.9 L269.4,419.0 L275.9,407.4 L282.8,396.1 L289.9,385.1 L297.2,374.5 L304.9,364.1 L312.7,354.0 L320.9,344.2 L329.3,334.7 L338.1,325.5 L347.1,316.5 L356.4,307.9 L366.1,299.5 L376.0,291.3 L386.3,283.5 L396.9,275.9 L407.8,268.6 L419.0,261.5 L430.6,254.6 L442.5,248.0 L454.7,241.6 L467.3,235.5 L480.2,229.5 L493.4,223.8 L507.0,218.3 L520.9,213.0 L535.1,207.9 L549.7,202.9 L564.6,198.2 L579.8,193.6 L595.4,189.2 L611.2,185.0 L627.4,181.0 L643.9,177.1 L660.6,173.3 L677.6,169.7 L694.9,166.2 L712.4,162.9 L730.2,159.7 L748.2,156.7 L766.5,153.7 L784.9,150.9 L803.5,148.2 L822.3,145.6 L841.2,143.1 L860.3,140.7 L879.4,138.4 L898.7,136.2 L918.1,134.1 L937.5,132.1 L956.9,130.2 L976.4,128.3 L995.9,126.5 L1015.3,124.8 L1034.7,123.2 L1054.1,121.6 L1073.4,120.1 L1092.5,118.7 L1111.6,117.3 L1130.5,116.0 L1149.3,114.7 L1167.9,113.5 L1186.3,112.4 L1204.6,111.3 L1222.6,110.2 L1240.4,109.2 L1257.9,108.2 L1275.2,107.3 L1292.2,106.4 L1308.9,105.5 L1325.4,104.7 L1341.6,103.9 L1357.4,103.2 L1373.0,102.5 L1388.2,101.8 L1403.1,101.1 L1417.7,100.5 L1431.9,99.9 L1445.8,99.3 L1459.4,98.8 L1472.6,98.3 L1485.5,97.8 L1498.1,97.3 L1510.3,96.8 L1522.2,96.4 L1533.8,96.0 L1545.0,95.6 L1555.9,95.2 L1566.5,94.8 L1576.8,94.5 L1586.7,94.1 L1596.4,93.8 L1605.7,93.5 L1614.7,93.2 L1623.5,92.9 L1631.9,92.7 L1640.1,92.4 L1647.9,92.2 L1655.6,91.9 L1662.9,91.7 L1670.0,91.5 L1676.9,91.3 L1683.4,91.1 L1689.8,90.9 L1695.9,90.7 L1701.8,90.5 L1707.5,90.4 L1713.0,90.2 L1718.3,90.1 L1723.3,89.9 L1728.2,89.8 L1732.9,89.7 L1737.4,89.5 L1741.7,89.4 L1745.9,89.3 L1749.9,89.2 L1753.7,89.1 L1757.4,89.0 L1761.0,88.9 L1764.4,88.8 L1767.6,88.7 L1770.8,88.6 L1773.8,88.5 L1776.7,88.5 L1779.4,88.4 L1782.1,88.3 L1784.6,88.3 L1787.1,88.2 L1789.4,88.1 L1791.7,88.1 L1793.8,88.0 L1795.9,88.0 L1797.8,87.9 L1799.7,87.9 L1801.5,87.8 L1803.3,87.8 L1804.9,87.7 L1806.5,87.7 L1808.1,87.6 L1809.5,87.6 L1810.9,87.6 L1812.3,87.5 L1813.5,87.5 L1814.8,87.5 L1815.9,87.4 L1817.1,87.4 L1818.1,87.4 L1819.2,87.4 L1820.2,87.3 L1821.1,87.3 L1822.0,87.3 L1822.9,87.3 L1823.7,87.3 L1824.5,87.2 L1825.3,87.2 L1826.0,87.2 L1826.7,87.2 L1827.3,87.2 L1828.0,87.1 L1828.6,87.1 L1829.2,87.1 L1829.7,87.1 L1830.3,87.1 L1830.8,87.1 L1831.3,87.1 L1831.7,87.1 L1832.2,87.0 L1832.6,87.0 L1833.0,87.0 L1833.4,87.0 L1833.8,87.0 L1834.1,87.0 L1834.5,87.0 L1834.8,87.0 L1835.1,87.0 L1835.4,87.0 L1835.7,87.0 L1836.0,86.9 L1836.2,86.9 L1836.5,86.9 L1836.7,86.9 L1836.9,86.9 L1837.1,86.9 L1837.4,86.9 L1837.6,86.9 L1837.7,86.9 L1837.9,86.9 L1838.1,86.9 L1838.3,86.9 L1838.4,86.9 L1838.6,86.9 L1838.7,86.9 L1838.9,86.9 L1839.0,86.9 L1839.1,86.9 L1839.2,86.9 L1839.4,86.9 L1839.5,86.9 L1839.6,86.9 L1839.7,86.9 L1839.8,86.9 L1839.9,86.8 L1840.0,86.8 L1840.0,86.8 L1840.1,86.8 L1840.2,86.8 L1840.3,86.8 L1840.4,86.8 L1840.4,86.8 L1840.5,86.8 L1840.5,86.8 L1840.6,86.8 L1840.7,86.8 L1840.7,86.8 L1840.8,86.8 L1840.8,86.8 L1840.9,86.8 L1840.9,86.8 L1841.0,86.8 L1841.0,86.8 L1841.0,86.8 L1841.1,86.8 L1841.1,86.8 L1841.1,86.8 L1841.2,86.8 L1841.2,86.8 L1841.2,86.8 L1841.3,86.8 L1841.3,86.8 L1841.3,86.8 L1841.4,86.8 L1841.4,86.8 L1841.4,86.8 L1841.4,86.8 L1841.4,86.8 L1841.5,86.8 L1841.5,86.8 L1841.5,86.8 L1841.5,86.8 L1841.5,86.8 L1841.5,86.8 L1841.6,86.8 L1841.6,86.8 L1841.6,86.8 L1841.6,86.8 L1841.6,86.8 L1841.6,86.8 L1841.6,86.8 L1841.7,86.8 L1841.7,86.8 L1841.7,86.8 L1841.7,86.8 L1841.9,86.8"/>
<path d="M110.9,1631.8 L111.1,1629.0 L111.1,1628.9 L111.1,1628.8 L111.1,1628.6 L111.2,1628.5 L111.2,1628.3 L111.2,1628.2 L111.2,1628.0 L111.2,1627.8 L111.2,1627.6 L111.2,1627.5 L111.3,1627.3 L111.3,1627.0 L111.3,1626.8 L111.3,1626.6 L111.3,1626.4 L111.3,1626.1 L111.4,1625.8 L111.4,1625.6 L111.4,1625.3 L111.4,1625.0 L111.4,1624.7 L111.5,1624.3 L111.5,1624.0 L111.5,1623.6 L111.6,1623.2 L111.6,1622.9 L111.6,1622.4 L111.7,1622.0 L111.7,1621.6 L111.7,1621.1 L111.8,1620.6 L111.8,1620.1 L111.8,1619.5 L111.9,1619.0 L111.9,1618.4 L112.0,1617.8 L112.0,1617.1 L112.1,1616.5 L112.1,1615.8 L112.2,1615.0 L112.3,1614.3 L112.3,1613.5 L112.4,1612.6 L112.4,1611.8 L112.5,1610.9 L112.6,1609.9 L112.7,1608.9 L112.8,1607.9 L112.8,1606.8 L112.9,1605.7 L113.0,1604.5 L113.1,1603.2 L113.2,1601.9 L113.3,1600.6 L113.4,1599.2 L113.6,1597.7 L113.7,1596.2 L113.8,1594.6 L113.9,1592.9 L114.1,1591.2 L114.2,1589.3 L114.4,1587.4 L114.5,1585.4 L114.7,1583.4 L114.9,1581.2 L115.1,1579.0 L115.2,1576.6 L115.4,1574.2 L115.7,1571.6 L115.9,1569.0 L116.1,1566.2 L116.3,1563.3 L116.6,1560.3 L116.8,1557.2 L117.1,1553.9 L117.4,1550.5 L117.7,1547.0 L118.0,1543.3 L118.3,1539.4 L118.7,1535.5 L119.0,1531.3 L119.4,1527.0 L119.8,1522.5 L120.2,1517.9 L120.6,1513.0 L121.1,1508.0 L121.5,1502.8 L122.0,1497.3 L122.5,1491.7 L123.1,1485.9 L123.6,1479.8 L124.2,1473.5 L124.8,1467.0 L125.5,1460.3 L126.1,1453.3 L126.8,1446.0 L127.5,1438.6 L128.3,1430.8 L129.1,1422.8 L129.9,1414.6 L130.8,1406.0 L131.7,1397.2 L132.6,1388.1 L133.6,1378.7 L134.7,1369.1 L135.7,1359.1 L136.9,1348.8 L138.0,1338.3 L139.3,1327.4 L140.5,1316.3 L141.9,1304.8 L143.3,1293.1 L144.7,1281.0 L146.3,1268.7 L147.9,1256.0 L149.5,1243.1 L151.3,1229.8 L153.1,1216.3 L155.0,1202.5 L156.9,1188.4 L159.0,1174.1 L161.1,1159.4 L163.4,1144.5 L165.7,1129.4 L168.2,1114.0 L170.7,1098.4 L173.4,1082.6 L176.1,1066.6 L179.0,1050.3 L182.0,1033.9 L185.2,1017.4 L188.4,1000.6 L191.8,983.8 L195.4,966.8 L199.1,949.7 L202.9,932.5 L206.9,915.2 L211.1,897.9 L215.4,880.6 L219.9,863.2 L224.6,845.8 L229.5,828.4 L234.5,811.1 L239.8,793.8 L245.3,776.6 L251.0,759.5 L256.9,742.4 L263.0,725.5 L269.4,708.7 L275.9,692.1 L282.8,675.6 L289.9,659.3 L297.2,643.1 L304.9,627.2 L312.7,611.5 L320.9,596.0 L329.3,580.8 L338.1,565.8 L347.1,551.1 L356.4,536.6 L366.1,522.4 L376.0,508.4 L386.3,494.8 L396.9,481.4 L407.8,468.3 L419.0,455.6 L430.6,443.1 L442.5,430.9 L454.7,419.0 L467.3,407.4 L480.2,396.1 L493.4,385.1 L507.0,374.5 L520.9,364.1 L535.1,354.0 L549.7,344.2 L564.6,334.7 L579.8,325.5 L595.4,316.5 L611.2,307.9 L627.4,299.5 L643.9,291.3 L660.6,283.5 L677.6,275.9 L694.9,268.6 L712.4,261.5 L730.2,254.6 L748.2,248.0 L766.5,241.6 L784.9,235.5 L803.5,229.5 L822.3,223.8 L841.2,218.3 L860.3,213.0 L879.4,207.9 L898.7,202.9 L918.1,198.2 L937.5,193.6 L956.9,189.2 L976.4,185.0 L995.9,181.0 L1015.3,177.1 L1034.7,173.3 L1054.1,169.7 L1073.4,166.2 L1092.5,162.9 L1111.6,159.7 L1130.5,156.7 L1149.3,153.7 L1167.9,150.9 L1186.3,148.2 L1204.6,145.6 L1222.6,143.1 L1240.4,140.7 L1257.9,138.4 L1275.2,136.2 L1292.2,134.1 L1308.9,132.1 L1325.4,130.2 L1341.6,128.3 L1357.4,126.5 L1373.0,124.8 L1388.2,123.2 L1403.1,121.6 L1417.7,120.1 L1431.9,118.7 L1445.8,117.3 L1459.4,116.0 L1472.6,114.7 L1485.5,113.5 L1498.1,112.4 L1510.3,111.3 L1522.2,110.2 L1533.8,109.2 L1545.0,108.2 L1555.9,107.3 L1566.5,106.4 L1576.8,105.5 L1586.7,104.7 L1596.4,103.9 L1605.7,103.2 L1614.7,102.5 L1623.5,101.8 L1631.9,101.1 L1640.1,100.5 L1647.9,99.9 L1655.6,99.3 L1662.9,98.8 L1670.0,98.3 L1676.9,97.8 L1683.4,97.3 L1689.8,96.8 L1695.9,96.4 L1701.8,96.0 L1707.5,95.6 L1713.0,95.2 L1718.3,94.8 L1723.3,94.5 L1728.2,94.1 L1732.9,93.8 L1737.4,93.5 L1741.7,93.2 L1745.9,92.9 L1749.9,92.7 L1753.7,92.4 L1757.4,92.2 L1761.0,91.9 L1764.4,91.7 L1767.6,91.5 L1770.8,91.3 L1773.8,91.1 L1776.7,90.9 L1779.4,90.7 L1782.1,90.5 L1784.6,90.4 L1787.1,90.2 L1789.4,90.1 L1791.7,89.9 L1793.8,89.8 L1795.9,89.7 L1797.8,89.5 L1799.7,89.4 L1801.5,89.3 L1803.3,89.2 L1804.9,89.1 L1806.5,89.0 L1808.1,88.9 L1809.5,88.8 L1810.9,88.7 L1812.3,88.6 L1813.5,88.5 L1814.8,88.5 L1815.9,88.4 L1817.1,88.3 L1818.1,88.3 L1819.2,88.2 L1820.2,88.1 L1821.1,88.1 L1822.0,88.0 L1822.9,88.0 L1823.7,87.9 L1824.5,87.9 L1825.3,87.8 L1826.0,87.8 L1826.7,87.7 L1827.3,87.7 L1828.0,87.6 L1828.6,87.6 L1829.2,87.6 L1829.7,87.5 L1830.3,87.5 L1830.8,87.5 L1831.3,87.4 L1831.7,87.4 L1832.2,87.4 L1832.6,87.4 L1833.0,87.3 L1833.4,87.3 L1833.8,87.3 L1834.1,87.3 L1834.5,87.3 L1834.8,87.2 L1835.1,87.2 L1835.4,87.2 L1835.7,87.2 L1836.0,87.2 L1836.2,87.1 L1836.5,87.1 L1836.7,87.1 L1836.9,87.1 L1837.1,87.1 L1837.4,87.1 L1837.6,87.1 L1837.7,87.1 L1837.9,87.0 L1838.1,87.0 L1838.3,87.0 L1838.4,87.0 L1838.6,87.0 L1838.7,87.0 L1838.9,87.0 L1839.0,87.0 L1839.1,87.0 L1839.2,87.0 L1839.4,87.0 L1839.5,86.9 L1839.6,86.9 L1839.7,86.9 L1839.8,86.9 L1839.9,86.9 L1840.0,86.9 L1840.0,86.9 L1840.1,86.9 L1840.2,86.9 L1840.3,86.9 L1840.4,86.9 L1840.4,86.9 L1840.5,86.9 L1840.5,86.9 L1840.6,86.9 L1840.7,86.9 L1840.7,86.9 L1840.8,86.9 L1840.8,86.9 L1840.9,86.9 L1840.9,86.9 L1841.0,86.9 L1841.0,86.9 L1841.0,86.9 L1841.1,86.8 L1841.1,86.8 L1841.1,86.8 L1841.2,86.8 L1841.2,86.8 L1841.2,86.8 L1841.3,86.8 L1841.3,86.8 L1841.3,86.8 L1841.4,86.8 L1841.4,86.8 L1841.4,86.8 L1841.4,86.8 L1841.4,86.8 L1841.5,86.8 L1841.5,86.8 L1841.5,86.8 L1841.5,86.8 L1841.5,86.8 L1841.5,86.8 L1841.6,86.8 L1841.6,86.8 L1841.6,86.8 L1841.6,86.8 L1841.6,86.8 L1841.6,86.8 L1841.6,86.8 L1841.7,86.8 L1841.7,86.8 L1841.7,86.8 L1841.7,86.8 L1841.9,86.8"/>
<path d="M110.9,1631.8 L111.1,1630.7 L111.1,1630.7 L111.1,1630.6 L111.1,1630.6 L111.2,1630.5 L111.2,1630.4 L111.2,1630.4 L111.2,1630.3 L111.2,1630.2 L111.2,1630.2 L111.2,1630.1 L111.3,1630.0 L111.3,1629.9 L111.3,1629.8 L111.3,1629.7 L111.3,1629.6 L111.3,1629.5 L111.4,1629.4 L111.4,1629.3 L111.4,1629.2 L111.4,1629.1 L111.4,1629.0 L111.5,1628.8 L111.5,1628.7 L111.5,1628.5 L111.6,1628.4 L111.6,1628.2 L111.6,1628.1 L111.7,1627.9 L111.7,1627.7 L111.7,1627.5 L111.8,1627.3 L111.8,1627.1 L111.8,1626.9 L111.9,1626.7 L111.9,1626.4 L112.0,1626.2 L112.0,1625.9 L112.1,1625.6 L112.1,1625.4 L112.2,1625.1 L112.3,1624.7 L112.3,1624.4 L112.4,1624.1 L112.4,1623.7 L112.5,1623.3 L112.6,1623.0 L112.7,1622.6 L112.8,1622.1 L112.8,1621.7 L112.9,1621.2 L113.0,1620.7 L113.1,1620.2 L113.2,1619.7 L113.3,1619.1 L113.4,1618.6 L113.6,1618.0 L113.7,1617.3 L113.8,1616.7 L113.9,1616.0 L114.1,1615.2 L114.2,1614.5 L114.4,1613.7 L114.5,1612.9 L114.7,1612.0 L114.9,1611.1 L115.1,1610.2 L115.2,1609.2 L115.4,1608.2 L115.7,1607.1 L115.9,1606.0 L116.1,1604.8 L116.3,1603.6 L116.6,1602.3 L116.8,1601.0 L117.1,1599.6 L117.4,1598.1 L117.7,1596.6 L118.0,1595.0 L118.3,1593.4 L118.7,1591.6 L119.0,1589.8 L119.4,1587.9 L119.8,1586.0 L120.2,1583.9 L120.6,1581.8 L121.1,1579.6 L121.5,1577.3 L122.0,1574.8 L122.5,1572.3 L123.1,1569.7 L123.6,1566.9 L124.2,1564.1 L124.8,1561.1 L125.5,1558.0 L126.1,1554.8 L126.8,1551.4 L127.5,1547.9 L128.3,1544.3 L129.1,1540.5 L129.9,1536.5 L130.8,1532.4 L131.7,1528.2 L132.6,1523.7 L133.6,1519.1 L134.7,1514.3 L135.7,1509.3 L136.9,1504.2 L138.0,1498.8 L139.3,1493.2 L140.5,1487.4 L141.9,1481.4 L143.3,1475.2 L144.7,1468.8 L146.3,1462.1 L147.9,1455.2 L149.5,1448.0 L151.3,1440.6 L153.1,1432.9 L155.0,1425.0 L156.9,1416.8 L159.0,1408.3 L161.1,1399.6 L163.4,1390.6 L165.7,1381.3 L168.2,1371.7 L170.7,1361.8 L173.4,1351.6 L176.1,1341.1 L179.0,1330.4 L182.0,1319.3 L185.2,1307.9 L188.4,1296.2 L191.8,1284.3 L195.4,1272.0 L199.1,1259.4 L202.9,1246.6 L206.9,1233.4 L211.1,1220.0 L215.4,1206.2 L219.9,1192.2 L224.6,1177.9 L229.5,1163.4 L234.5,1148.5 L239.8,1133.5 L245.3,1118.2 L251.0,1102.6 L256.9,1086.8 L263.0,1070.9 L269.4,1054.7 L275.9,1038.3 L282.8,1021.8 L289.9,1005.1 L297.2,988.3 L304.9,971.3 L312.7,954.2 L320.9,937.1 L329.3,919.8 L338.1,902.5 L347.1,885.2 L356.4,867.8 L366.1,850.4 L376.0,833.1 L386.3,815.7 L396.9,798.4 L407.8,781.2 L419.0,764.0 L430.6,747.0 L442.5,730.0 L454.7,713.2 L467.3,696.5 L480.2,680.0 L493.4,663.6 L507.0,647.4 L520.9,631.5 L535.1,615.7 L549.7,600.2 L564.6,584.8 L579.8,569.8 L595.4,555.0 L611.2,540.4 L627.4,526.1 L643.9,512.1 L660.6,498.4 L677.6,484.9 L694.9,471.8 L712.4,458.9 L730.2,446.4 L748.2,434.1 L766.5,422.1 L784.9,410.5 L803.5,399.1 L822.3,388.0 L841.2,377.3 L860.3,366.8 L879.4,356.6 L898.7,346.8 L918.1,337.2 L937.5,327.9 L956.9,318.9 L976.4,310.1 L995.9,301.7 L1015.3,293.5 L1034.7,285.6 L1054.1,277.9 L1073.4,270.5 L1092.5,263.3 L1111.6,256.4 L1130.5,249.7 L1149.3,243.3 L1167.9,237.1 L1186.3,231.1 L1204.6,225.3 L1222.6,219.7 L1240.4,214.4 L1257.9,209.2 L1275.2,204.2 L1292.2,199.4 L1308.9,194.8 L1325.4,190.4 L1341.6,186.1 L1357.4,182.0 L1373.0,178.1 L1388.2,174.3 L1403.1,170.6 L1417.7,167.2 L1431.9,163.8 L1445.8,160.6 L1459.4,157.5 L1472.6,154.5 L1485.5,151.6 L1498.1,148.9 L1510.3,146.3 L1522.2,143.8 L1533.8,141.3 L1545.0,139.0 L1555.9,136.8 L1566.5,134.7 L1576.8,132.6 L1586.7,130.7 L1596.4,128.8 L1605.7,127.0 L1614.7,125.3 L1623.5,123.6 L1631.9,122.0 L1640.1,120.5 L1647.9,119.1 L1655.6,117.7 L1662.9,116.3 L1670.0,115.1 L1676.9,113.8 L1683.4,112.7 L1689.8,111.5 L1695.9,110.5 L1701.8,109.4 L1707.5,108.5 L1713.0,107.5 L1718.3,106.6 L1723.3,105.8 L1728.2,104.9 L1732.9,104.1 L1737.4,103.4 L1741.7,102.7 L1745.9,102.0 L1749.9,101.3 L1753.7,100.7 L1757.4,100.1 L1761.0,99.5 L1764.4,98.9 L1767.6,98.4 L1770.8,97.9 L1773.8,97.4 L1776.7,97.0 L1779.4,96.5 L1782.1,96.1 L1784.6,95.7 L1787.1,95.3 L1789.4,94.9 L1791.7,94.6 L1793.8,94.2 L1795.9,93.9 L1797.8,93.6 L1799.7,93.3 L1801.5,93.0 L1803.3,92.7 L1804.9,92.5 L1806.5,92.2 L1808.1,92.0 L1809.5,91.8 L1810.9,91.5 L1812.3,91.3 L1813.5,91.1 L1814.8,90.9 L1815.9,90.8 L1817.1,90.6 L1818.1,90.4 L1819.2,90.3 L1820.2,90.1 L1821.1,90.0 L1822.0,89.8 L1822.9,89.7 L1823.7,89.6 L1824.5,89.4 L1825.3,89.3 L1826.0,89.2 L1826.7,89.1 L1827.3,89.0 L1828.0,88.9 L1828.6,88.8 L1829.2,88.7 L1829.7,88.6 L1830.3,88.6 L1830.8,88.5 L1831.3,88.4 L1831.7,88.3 L1832.2,88.3 L1832.6,88.2 L1833.0,88.1 L1833.4,88.1 L1833.8,88.0 L1834.1,88.0 L1834.5,87.9 L1834.8,87.9 L1835.1,87.8 L1835.4,87.8 L1835.7,87.7 L1836.0,87.7 L1836.2,87.7 L1836.5,87.6 L1836.7,87.6 L1836.9,87.6 L1837.1,87.5 L1837.4,87.5 L1837.6,87.5 L1837.7,87.4 L1837.9,87.4 L1838.1,87.4 L1838.3,87.3 L1838.4,87.3 L1838.6,87.3 L1838.7,87.3 L1838.9,87.3 L1839.0,87.2 L1839.1,87.2 L1839.2,87.2 L1839.4,87.2 L1839.5,87.2 L1839.6,87.1 L1839.7,87.1 L1839.8,87.1 L1839.9,87.1 L1840.0,87.1 L1840.0,87.1 L1840.1,87.1 L1840.2,87.1 L1840.3,87.0 L1840.4,87.0 L1840.4,87.0 L1840.5,87.0 L1840.5,87.0 L1840.6,87.0 L1840.7,87.0 L1840.7,87.0 L1840.8,87.0 L1840.8,87.0 L1840.9,87.0 L1840.9,86.9 L1841.0,86.9 L1841.0,86.9 L1841.0,86.9 L1841.1,86.9 L1841.1,86.9 L1841.1,86.9 L1841.2,86.9 L1841.2,86.9 L1841.2,86.9 L1841.3,86.9 L1841.3,86.9 L1841.3,86.9 L1841.4,86.9 L1841.4,86.9 L1841.4,86.9 L1841.4,86.9 L1841.4,86.9 L1841.5,86.9 L1841.5,86.9 L1841.5,86.9 L1841.5,86.9 L1841.5,86.9 L1841.5,86.9 L1841.6,86.9 L1841.6,86.8 L1841.6,86.8 L1841.6,86.8 L1841.6,86.8 L1841.6,86.8 L1841.6,86.8 L1841.7,86.8 L1841.7,86.8 L1841.7,86.8 L1841.7,86.8 L1841.9,86.8"/>
</g>
<g fill="#f00" stroke="#2a0000" stroke-width="2.8">
<circle cx="125.3" cy="501.1" r="13.5"/>
<circle cx="251.5" cy="321.6" r="12.8"/>
<circle cx="456.9" cy="221.3" r="10.0"/>
<circle cx="481.7" cy="499.3" r="10.0"/>
<circle cx="514.2" cy="454.6" r="13.0"/>
<circle cx="520" cy="373.1" r="12.0"/>
<circle cx="543.8" cy="205.4" r="12.0"/>
<circle cx="591.9" cy="164.7" r="9.0"/>
<circle cx="593.1" cy="240.5" r="15.5"/>
<circle cx="759.2" cy="133.4" r="9.5"/>
<circle cx="904.1" cy="115" r="18.5"/>
<circle cx="797.7" cy="688.7" r="14.5"/>
<circle cx="839.5" cy="385.2" r="13.5"/>
<circle cx="928.7" cy="523.2" r="18.5"/>
<circle cx="1017.8" cy="502.4" r="12.5"/>
</g>
<g>
<text class="b" x="34" y="55" letter-spacing="0.2" transform="translate(0,55) scale(1,1.05) translate(0,-55)">Sensitivity</text>
<text class="b" x="875" y="55" transform="translate(0,55) scale(1,1.05) translate(0,-55)">SROC Curve</text>
<path transform="translate(879.50,1711.90) scale(0.018555,-0.019482)" stroke="#000" stroke-width="48" d="M1012 0L731 0L731 1059Q577 915 368 846L368 1101Q478 1137 607 1237Q736 1338 784 1472L1012 1472Z"/>
<text class="b" x="905.1" y="1712" transform="translate(0,1712) scale(1,1.05) translate(0,-1712)">-specificity</text>
<text x="22" y="1642.7">0</text>
<text x="22" y="1489.6">0.</text><path transform="translate(52.90,1489.60) scale(0.018555,-0.018555)" stroke="#000" stroke-width="59" d="M763 0L583 0L583 1147Q518 1085 412 1023Q306 961 222 930L222 1104Q373 1175 486 1276Q599 1377 646 1472L763 1472Z"/>
<text x="22" y="1333.7">0.2</text>
<text x="22" y="1180.0">0.3</text>
<text x="22" y="1025.8">0.4</text>
<text x="22" y="869.8">0.5</text>
<text x="22" y="716.6">0.6</text>
<text x="22" y="561.5">0.7</text>
<text x="22" y="406.5">0.8</text>
<text x="22" y="252.8">0.9</text>
<path transform="translate(21.40,98.15) scale(0.018555,-0.018555)" stroke="#000" stroke-width="59" d="M763 0L583 0L583 1147Q518 1085 412 1023Q306 961 222 930L222 1104Q373 1175 486 1276Q599 1377 646 1472L763 1472Z"/>
<text x="112.5" y="1669" text-anchor="middle">0</text>
<text x="447" y="1669" text-anchor="start">0.2</text>
<text x="794" y="1669" text-anchor="start">0.4</text>
<text x="1139" y="1669" text-anchor="start">0.6</text>
<text x="1488" y="1669" text-anchor="start">0.8</text>
<path transform="translate(1832.10,1668.70) scale(0.018555,-0.018555)" stroke="#000" stroke-width="59" d="M763 0L583 0L583 1147Q518 1085 412 1023Q306 961 222 930L222 1104Q373 1175 486 1276Q599 1377 646 1472L763 1472Z"/>
<text class="b" x="1878" y="212.5" style="font-size:37px" transform="translate(0,212.5) scale(1,1.05) translate(0,-212.5)">Symmetric SROC</text>
<text x="1877" y="253.1">AUC = 0.8628</text>
<text x="1877" y="295">SE(AUC) = 0.0358</text>
<text x="1877" y="341.8">Q<tspan x="1921.4"> = 0.7935</tspan></text>
<circle cx="1915.5" cy="320.5" r="4.6"/>
<text x="1877" y="385.3">SE(Q<tspan x="1984.7">) = 0.0347</tspan></text>
<circle cx="1977.4" cy="364.2" r="4.6"/>
</g>
</g>
</svg>
</body></html>
